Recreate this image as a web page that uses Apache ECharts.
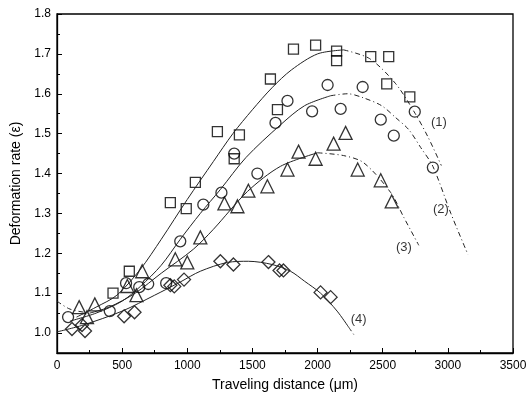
<!DOCTYPE html>
<html>
<head>
<meta charset="utf-8">
<script src="https://cdn.jsdelivr.net/npm/echarts@6/dist/echarts.min.js"></script>
<style>
    html, body {margin: 0; padding: 0; background: #fff;}
    #chart {width: 530px; height: 404px;}
</style>
</head>
<body>
<div id="chart"></div>
<script>
    // measured points [distance um, deformation rate]
    const squares = [[430, 1.10], [555, 1.155], [870, 1.327], [992, 1.312], [1062, 1.378], [1231, 1.505],
        [1360, 1.437], [1400, 1.497], [1638, 1.637], [1692, 1.56], [1815, 1.712], [1985, 1.722],
        [2146, 1.707], [2146, 1.683], [2408, 1.693], [2546, 1.693], [2531, 1.625], [2708, 1.592]];
    const circles = [[85, 1.04], [405, 1.055], [530, 1.125], [631, 1.115], [700, 1.123], [838, 1.125],
        [946, 1.23], [1123, 1.322], [1262, 1.352], [1360, 1.45], [1538, 1.40], [1677, 1.527],
        [1769, 1.582], [1958, 1.556], [2077, 1.622], [2177, 1.562], [2346, 1.617], [2485, 1.535],
        [2585, 1.495], [2746, 1.555], [2885, 1.415]];
    const triangles = [[170, 1.065], [230, 1.04], [290, 1.072], [540, 1.118], [610, 1.095], [654, 1.155],
        [908, 1.185], [1000, 1.177], [1100, 1.24], [1285, 1.325], [1385, 1.318], [1469, 1.357],
        [1615, 1.368], [1769, 1.41], [1854, 1.455], [1985, 1.437], [2123, 1.475], [2215, 1.502],
        [2308, 1.41], [2485, 1.383], [2569, 1.33]];
    const diamonds = [[115, 1.01], [192, 1.02], [215, 1.005], [515, 1.042], [595, 1.052], [870, 1.12],
        [900, 1.117], [975, 1.134], [1254, 1.18], [1354, 1.172], [1623, 1.178], [1708, 1.157],
        [1738, 1.157], [2023, 1.102], [2100, 1.09]];

    // fitted curves, solid part and extrapolated (dashed) part
    const fit1 = [[150, 1.04], [300, 1.065], [460, 1.095], [640, 1.16], [800, 1.235], [1000, 1.335], [1200, 1.43],
        [1350, 1.50], [1500, 1.56], [1650, 1.615], [1800, 1.66], [2000, 1.70], [2200, 1.71]];
    const fit1Ext = [[2200, 1.71], [2400, 1.688], [2600, 1.625], [2750, 1.55], [2850, 1.49], [2950, 1.42]];
    const fit2 = [[100, 1.03], [300, 1.05], [500, 1.08], [640, 1.117], [800, 1.17], [946, 1.235], [1100, 1.30],
        [1254, 1.36], [1450, 1.44], [1715, 1.522], [1900, 1.57], [2100, 1.595]];
    const fit2Ext = [[2100, 1.595], [2230, 1.60], [2350, 1.59], [2492, 1.57], [2600, 1.54], [2700, 1.51],
        [2792, 1.465], [2885, 1.418], [3023, 1.30], [3154, 1.197]];
    const fit3Pre = [[0, 1.08], [100, 1.06], [250, 1.05]];
    const fit3 = [[250, 1.05], [400, 1.065], [600, 1.10], [800, 1.15], [1046, 1.21], [1200, 1.26],
        [1462, 1.355], [1715, 1.418], [2000, 1.452]];
    const fit3Ext = [[2000, 1.452], [2200, 1.445], [2354, 1.427], [2562, 1.352], [2662, 1.29], [2777, 1.22]];
    const fit4 = [[0, 1.003], [200, 1.02], [500, 1.055], [750, 1.095], [946, 1.128], [1100, 1.155], [1308, 1.177],
        [1469, 1.18], [1650, 1.172], [1792, 1.155], [1900, 1.13], [2023, 1.10], [2150, 1.055], [2238, 1.015]];
    const fit4Ext = [[2238, 1.015], [2285, 0.993]];

    const curveLabels = [[2931, 1.527, '(1)'], [2946, 1.31, '(2)'], [2662, 1.215, '(3)'], [2315, 1.035, '(4)']];
    const yTicks = [1.0, 1.1, 1.2, 1.3, 1.4, 1.5, 1.6, 1.7, 1.8];

    const font = 'Liberation Sans';
    const dash = [5, 3, 1, 3];

    function curve(data, dashed) {
        return {
            type: 'line', data: data, smooth: 0.3, showSymbol: false, silent: true,
            lineStyle: {color: '#222', width: 1, type: dashed ? dash : 'solid'}
        };
    }

    function points(data, symbol, size) {
        return {
            type: 'scatter', data: data, symbol: symbol, symbolSize: size,
            itemStyle: {color: 'rgba(255,255,255,0)', borderColor: '#000', borderWidth: 1.3}
        };
    }

    const myChart = echarts.init(document.getElementById('chart'));
    const option = {
        animation: false,
        textStyle: {fontFamily: font},
        grid: {left: 57, right: 17, top: 14, bottom: 51, show: true, borderColor: '#000', borderWidth: 1.3},
        xAxis: {
            type: 'value', min: 0, max: 3500, interval: 500,
            name: 'Traveling distance (\u03bcm)', nameLocation: 'middle', nameGap: 25,
            nameTextStyle: {fontFamily: font, fontSize: 14, color: '#000'},
            axisLine: {lineStyle: {color: '#000', width: 1.3}},
            axisTick: {inside: true, length: 5, lineStyle: {color: '#000'}},
            minorTick: {show: true, splitNumber: 2, length: 3, lineStyle: {color: '#000'}},
            axisLabel: {fontFamily: font, fontSize: 12, color: '#000', margin: 7, formatter: v => String(v)},
            splitLine: {show: false}
        },
        yAxis: [{
            type: 'value', min: 0.95, max: 1.8,
            name: 'Deformation rate (\u03b5)', nameLocation: 'middle', nameGap: 33,
            nameTextStyle: {fontFamily: font, fontSize: 14, color: '#000'},
            axisLine: {lineStyle: {color: '#000', width: 1.3}},
            axisTick: {inside: true, length: 5, customValues: yTicks, lineStyle: {color: '#000'}},
            axisLabel: {
                fontFamily: font, fontSize: 12, color: '#000', margin: 6, customValues: yTicks,
                formatter: v => v.toFixed(1)
            },
            splitLine: {show: false}
        }, {
            // half-step minor ticks
            type: 'value', min: 0.95, max: 1.8, interval: 0.1, position: 'left',
            axisLine: {show: false},
            axisTick: {inside: true, length: 3, lineStyle: {color: '#000'}},
            axisLabel: {show: false},
            splitLine: {show: false}
        }],
        series: [
            curve(fit1), curve(fit1Ext, true),
            curve(fit2), curve(fit2Ext, true),
            curve(fit3Pre, true), curve(fit3), curve(fit3Ext, true),
            curve(fit4), curve(fit4Ext, true),
            points(squares, 'rect', 10),
            points(circles, 'circle', 11),
            points(triangles, 'triangle', 13),
            points(diamonds, 'diamond', 13),
            {
                type: 'scatter', data: curveLabels, symbolSize: 0, silent: true,
                label: {
                    show: true, position: 'inside', formatter: p => p.data[2],
                    fontFamily: font, fontSize: 13, color: '#000'
                }
            }
        ]
    };
    myChart.setOption(option);
</script>
</body>
</html>
